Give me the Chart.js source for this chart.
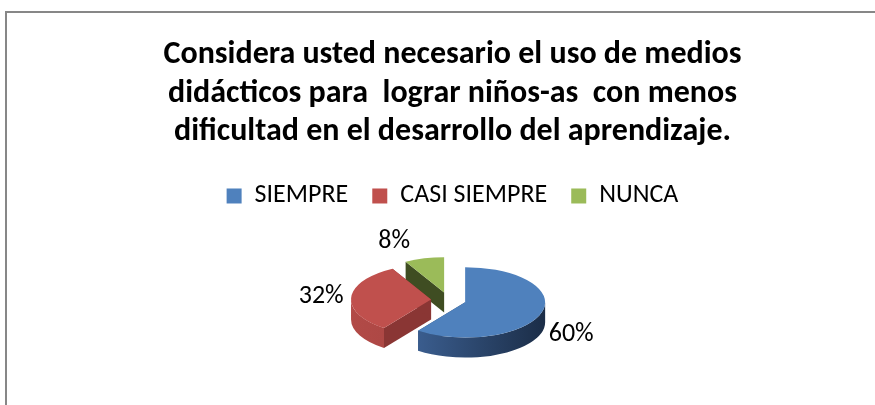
<!DOCTYPE html>
<html>
<head>
<meta charset="utf-8">
<script src="https://cdn.jsdelivr.net/npm/chart.js@4.4.0/dist/chart.umd.min.js"></script>
<style>
  html, body { margin: 0; padding: 0; background: #fff; overflow: hidden; }
  #marco { position: absolute; left: 5px; top: 11px; width: 940px; height: 460px; border: 2px solid #878787; }
  #grafico { position: absolute; left: 0; top: 0; }
</style>
</head>
<body>
<div id="marco"></div>
<canvas id="grafico" width="875" height="405"></canvas>
<script>
// datos
const categorias = ['SIEMPRE', 'CASI SIEMPRE', 'NUNCA'];
const porcentajes = [60, 32, 8];
const titulo = [
    'Considera usted necesario el uso de medios',
    'didácticos para  lograr niños-as  con menos',
    'dificultad en el desarrollo del aprendizaje.'
];

const fuente = 'Carlito, Calibri, Lato, sans-serif';
const colores = ['#4F81BD', '#C0504D', '#9BBB59'];
// caras laterales del pastel 3D
const laterales = [
    { radial: '#2f4d74', claro: '#4269a0', oscuro: '#1b2d47' },
    { radial: '#8a3634', claro: '#b24a47', oscuro: '#9c403d' },
    { radial: '#3f4d22', claro: '#7d9a45', oscuro: '#5d7333' }
];

// dibuja el pastel inclinado y con separación, a partir de los arcos de Chart.js
const pastel3d = {
    id: 'pastel3d',
    beforeDatasetsDraw(chart) {
        const ctx = chart.ctx;
        const meta = chart.getDatasetMeta(0);
        const valores = chart.data.datasets[0].data;
        const total = valores.reduce((a, b) => a + b, 0);
        const k = 0.44, alto = 20, separa = 17.5, corrX = -4;

        const piezas = meta.data.map((arc, i) => {
            const mid = (arc.startAngle + arc.endAngle) / 2;
            return {
                arc: arc, i: i, mid: mid,
                cx: arc.x + corrX + Math.cos(mid) * separa,
                cy: arc.y + Math.sin(mid) * separa * k
            };
        });
        piezas.sort((a, b) => a.cy - b.cy);

        ctx.save();
        piezas.forEach(p => {
            const arc = p.arc, cx = p.cx, cy = p.cy, R = arc.outerRadius;
            const lados = laterales[p.i];

            // paredes radiales
            [arc.startAngle, arc.endAngle].forEach(a => {
                const x = cx + R * Math.cos(a), y = cy + k * R * Math.sin(a);
                ctx.beginPath();
                ctx.moveTo(cx, cy);
                ctx.lineTo(x, y);
                ctx.lineTo(x, y + alto);
                ctx.lineTo(cx, cy + alto);
                ctx.closePath();
                ctx.fillStyle = lados.radial;
                ctx.fill();
            });

            // pared curva (solo la parte delantera)
            const s = Math.max(arc.startAngle, 0), e = Math.min(arc.endAngle, Math.PI);
            if (e > s) {
                ctx.beginPath();
                ctx.ellipse(cx, cy, R, k * R, 0, s, e);
                ctx.ellipse(cx, cy + alto, R, k * R, 0, e, s, true);
                ctx.closePath();
                const g = ctx.createLinearGradient(cx - R, 0, cx + R, 0);
                g.addColorStop(0, lados.claro);
                g.addColorStop(1, lados.oscuro);
                ctx.fillStyle = g;
                ctx.fill();
            }

            // cara superior
            ctx.beginPath();
            ctx.moveTo(cx, cy);
            ctx.ellipse(cx, cy, R, k * R, 0, arc.startAngle, arc.endAngle);
            ctx.closePath();
            ctx.fillStyle = arc.options.backgroundColor;
            ctx.fill();
        });

        // etiquetas de porcentaje
        ctx.font = '26px ' + fuente;
        ctx.fillStyle = '#000';
        ctx.textAlign = 'center';
        ctx.textBaseline = 'middle';
        piezas.forEach(p => {
            const R = p.arc.outerRadius;
            const c = Math.cos(p.mid), s = Math.sin(p.mid);
            const ex = p.cx + R * c, ey = p.cy + k * R * s;
            const x = ex + Math.sign(c) * 30;
            const y = ey + s * 18 + (s > 0 ? alto * 0.8 : 0);
            ctx.fillText(Math.round(valores[p.i] / total * 100) + '%', x, y);
        });
        ctx.restore();
        return false;
    }
};

var ctx = document.getElementById('grafico');

var myChart = new Chart(ctx, {
    type: 'pie',
    data: {
        labels: categorias,
        datasets: [{
            data: porcentajes,
            backgroundColor: colores,
            borderWidth: 0
        }]
    },
    options: {
        responsive: false,
        animation: false,
        devicePixelRatio: 1,
        radius: 80,
        layout: {
            padding: { top: 12, left: 30, right: 0, bottom: 24 }
        },
        plugins: {
            title: {
                display: true,
                text: titulo,
                color: '#000',
                font: { family: fuente, size: 32, weight: 'bold', lineHeight: 1.203 },
                padding: { top: 24, bottom: 7.5 }
            },
            legend: {
                position: 'top',
                labels: {
                    color: '#000',
                    boxWidth: 15,
                    boxHeight: 15,
                    padding: 24,
                    font: { family: fuente, size: 26 }
                }
            },
            tooltip: { enabled: false }
        }
    },
    plugins: [pastel3d]
});
</script>
</body>
</html>
